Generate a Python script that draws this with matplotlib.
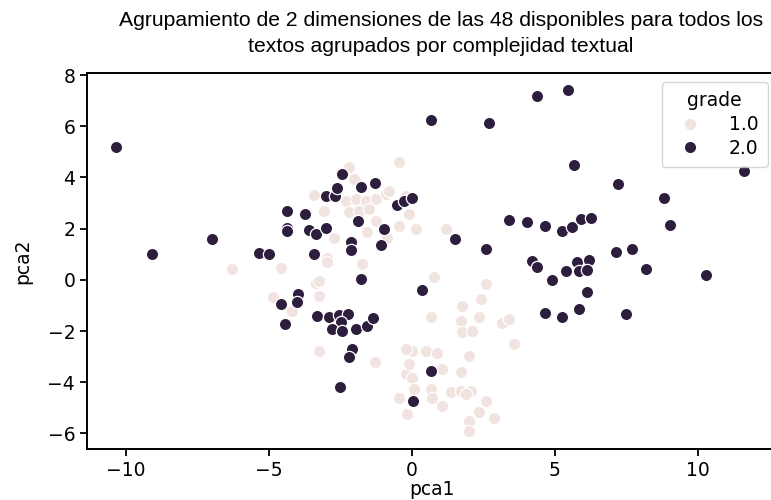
import matplotlib
matplotlib.use("Agg")
import matplotlib.pyplot as plt
from matplotlib.lines import Line2D

# grade 1.0 points (pca1, pca2)
g1_x = [-0.45, -2.2, -2.03, -3.43, -2.32, -1.97, -1.62, -1.27, -0.92, -0.8,
        -2.2, -1.85, -1.5, -3.08, -0.1, -0.22, -1.27, -0.45, 0.13, 1.18,
        -1.56, -0.86, -2.73, -2.96,
        -6.28, -4.58, -2.96, -1.74, -3.37, -3.25, -4.88, -3.25, -4.19, -3.25, -1.3,
        0.77, 2.58, 2.4, 1.76, 0.65, 1.7, 2.34, 1.76, 2.11, 3.16, 3.39, 3.57,
        0.01, 0.48, 0.89, 2.0, -0.22, 0.01, -0.1, 1.06, 1.7, 0.07, 0.65, 0.71,
        1.35, 1.7, 2.05, 1.88, 1.06, -0.45, 2.58, -0.16, 2.34, 2.87, 2.0, 2.0, -0.2]
g1_y = [4.6, 4.42, 3.93, 3.32, 3.09, 3.15, 3.09, 3.15, 3.35, 3.48,
        2.63, 2.7, 2.76, 2.7, 2.57, 3.28, 2.3, 2.11, 1.98, 1.98,
        1.85, 1.65, 1.65, 0.87,
        0.44, 0.47, 0.68, 0.61, -0.12, -0.06, -0.69, -0.63, -1.21, -2.77, -3.23,
        0.1, -0.17, -0.75, -1.02, -1.47, -1.6, -1.47, -2.05, -1.99, -1.67, -1.54, -2.51,
        -2.77, -2.8, -2.84, -2.97, -3.68, -3.82, -3.29, -3.49, -3.62, -4.27, -4.27, -4.6,
        -4.4, -4.34, -4.34, -4.46, -4.92, -4.6, -4.73, -5.25, -5.18, -5.38, -5.5, -5.9, -2.71]

# grade 2.0 points (pca1, pca2)
g2_x = [-10.36, -9.08, -7.0, -5.35, -5.02,
        -4.39, -4.39, -4.39, -3.74, -3.6, -3.37,
        -3.02, -2.69, -3.02, -3.43,
        -2.46, -2.61, -1.79, -1.29,
        -0.51, -0.28, -0.01,
        -1.88, -0.98, -2.14, -2.14, -1.09,
        0.65, 2.69, 4.38, 5.47, 5.66, 7.21, 8.81, 11.61, 9.04,
        1.5, 2.6, 3.39, 4.03, 4.65, 5.26, 5.6, 5.9, 6.25,
        7.12, 7.7, 5.78, 6.21,
        4.2, 4.38, 5.4, 5.84, 6.13, 8.19, 10.27, 4.9, 6.13, 4.67, 5.26, 5.86, 7.49,
        -1.79, 0.34,
        -3.98, -4.01, -4.59, -4.44,
        -3.31, -2.9, -2.55, -2.23, -2.49, -2.79, -2.46, -1.97, -1.56, -1.36,
        -2.09, -2.2, -2.52, 0.65, 0.05]
g2_y = [5.2, 1.0, 1.59, 1.04, 1.0,
        2.67, 2.04, 1.89, 2.57, 1.94, 1.78,
        3.28, 3.28, 2.04, 1.0,
        4.13, 3.57, 3.63, 3.78,
        2.93, 3.09, 3.21,
        2.28, 1.98, 1.48, 1.16, 1.35,
        6.24, 6.12, 7.19, 7.41, 4.48, 3.76, 3.18, 4.26, 2.13,
        1.61, 1.22, 2.34, 2.27, 2.11, 1.91, 2.08, 2.37, 2.43,
        1.07, 1.2, 0.7, 0.77,
        0.72, 0.51, 0.35, 0.35, 0.39, 0.42, 0.18, -0.01, -0.46, -1.3, -1.47, -1.15, -1.34,
        0.03, -0.4,
        -0.56, -0.86, -0.95, -1.71,
        -1.43, -1.47, -1.37, -1.34, -1.63, -1.93, -1.99, -1.93, -1.8, -1.5,
        -2.71, -3.03, -4.17, -3.55, -4.75]

grades = ["1.0", "2.0"]
light = "#f1e3df"
dark = "#2d1e3e"

fig = plt.figure(figsize=(7.71, 5.0), dpi=100)
ax = fig.add_axes([87 / 771, 51 / 500, 690 / 771, 376 / 500])

ax.scatter(g1_x, g1_y, s=78, c=light, edgecolors="white", linewidths=0.9, zorder=2)
ax.scatter(g2_x, g2_y, s=78, c=dark, edgecolors="white", linewidths=0.9, zorder=3)

ax.set_xlim(-11.37, 12.77)
ax.set_ylim(-6.61, 8.08)
ax.set_xticks([-10, -5, 0, 5, 10])
ax.set_yticks([-6, -4, -2, 0, 2, 4, 6, 8])
ax.tick_params(labelsize=13.5, length=5, width=1.3)
for sp in ax.spines.values():
    sp.set_linewidth(1.4)

ax.set_xlabel("pca1", fontsize=13.5, labelpad=0)
ax.set_ylabel("pca2", fontsize=13.5, labelpad=11)
ax.set_title("Agrupamiento de 2 dimensiones de las 48 disponibles para todos los\n"
             "textos agrupados por complejidad textual",
             fontsize=15.2, family="Liberation Sans", x=0.513, pad=15,
             linespacing=1.45)

handles = [Line2D([], [], marker="o", ls="", ms=9, mfc=light, mec="white"),
           Line2D([], [], marker="o", ls="", ms=9, mfc=dark, mec="white")]
ax.legend(handles, grades, title="grade", fontsize=13.5, title_fontsize=13.5,
          loc="upper right", bbox_to_anchor=(768 / 771, 1 - 82 / 500),
          bbox_transform=fig.transFigure, borderaxespad=0,
          handletextpad=1.1, labelspacing=0.25, borderpad=0.5)

fig.savefig("out.png", dpi=100)
